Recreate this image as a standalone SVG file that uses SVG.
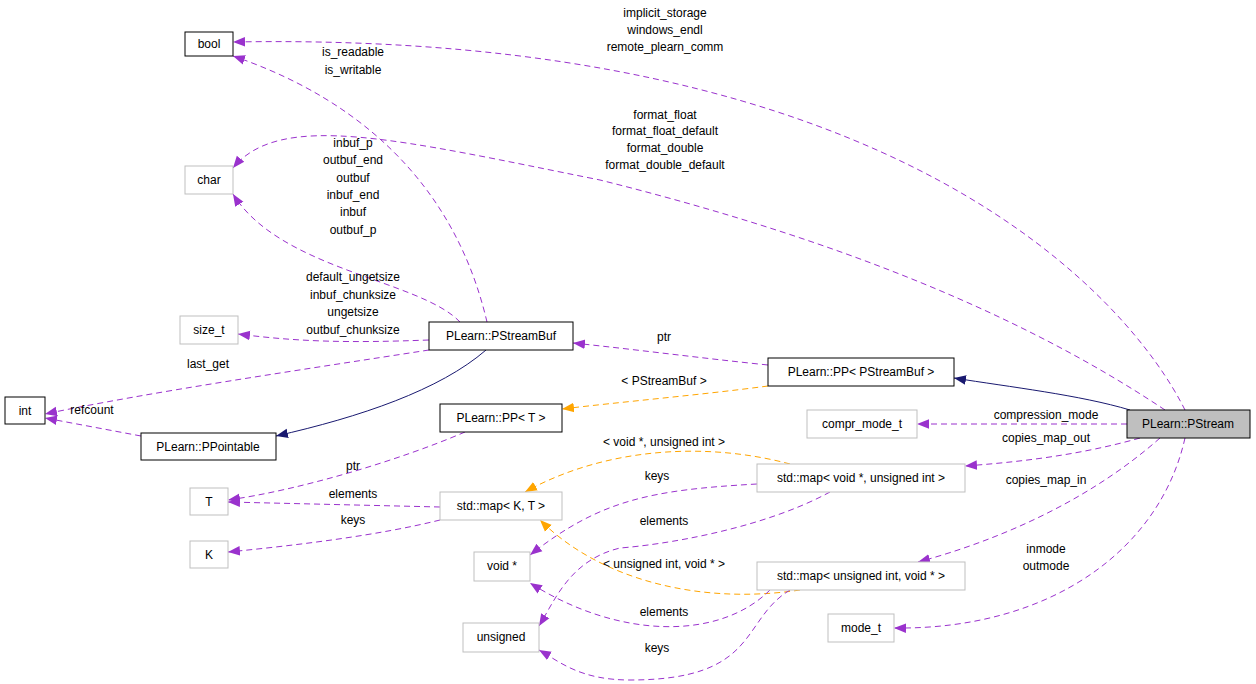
<svg xmlns="http://www.w3.org/2000/svg" width="1256" height="684" viewBox="0 0 1256 684">
<style>
.n rect{fill:#fff;stroke:#000;stroke-width:1}
.g rect{stroke:#bfbfbf}
text{font-family:"Liberation Sans",Arial,sans-serif;font-size:12px;text-anchor:middle;fill:#000}
.e path{fill:none;stroke-width:1}
.p{stroke:#9a32cd;stroke-dasharray:6,4}
.o{stroke:#ffa500;stroke-dasharray:6,4}
.b{stroke:#191970}
</style>
<defs>
<marker id="mp" viewBox="0 0 10 10" refX="10" refY="5" markerWidth="12" markerHeight="12" markerUnits="userSpaceOnUse" orient="auto"><path d="M0,1L10,5L0,9z" fill="#9a32cd"/></marker>
<marker id="mo" viewBox="0 0 10 10" refX="10" refY="5" markerWidth="12" markerHeight="12" markerUnits="userSpaceOnUse" orient="auto"><path d="M0,1L10,5L0,9z" fill="#ffa500"/></marker>
<marker id="mb" viewBox="0 0 10 10" refX="10" refY="5" markerWidth="12" markerHeight="12" markerUnits="userSpaceOnUse" orient="auto"><path d="M0,1L10,5L0,9z" fill="#191970"/></marker>
</defs>
<rect width="1256" height="684" fill="#fff"/>
<g id="edges" class="e">
<path class="p" marker-end="url(#mp)" d="M1185,410 C1130,300 900,30 233,42"/>
<path class="p" marker-end="url(#mp)" d="M1165,410 C1000,300 800,230 600,180 C400,140 280,110 233,168"/>
<path class="p" marker-end="url(#mp)" d="M487,322 C470,250 420,120 233,56"/>
<path class="p" marker-end="url(#mp)" d="M460,322 C420,280 280,270 233,194"/>
<path class="p" marker-end="url(#mp)" d="M429,340 C350,343 300,342 238,334"/>
<path class="p" marker-end="url(#mp)" d="M429,350 C300,370 150,392 45,414"/>
<path class="p" marker-end="url(#mp)" d="M141,436 L45,418"/>
<path class="b" marker-end="url(#mb)" d="M486,350 C440,390 360,417 276,436"/>
<path class="p" marker-end="url(#mp)" d="M768,365 C700,358 640,350 573,343"/>
<path class="o" marker-end="url(#mo)" d="M768,386 C700,395 620,402 562,409"/>
<path class="b" marker-end="url(#mb)" d="M1130,410 C1080,395 1010,387 954,378"/>
<path class="p" marker-end="url(#mp)" d="M1127,424 L917,424"/>
<path class="p" marker-end="url(#mp)" d="M1140,438 C1080,455 1020,462 965,466"/>
<path class="p" marker-end="url(#mp)" d="M1160,438 C1090,500 1000,540 918,562"/>
<path class="p" marker-end="url(#mp)" d="M1185,438 C1160,550 1050,630 894,628"/>
<path class="o" marker-end="url(#mo)" d="M790,464 C700,440 600,450 525,492"/>
<path class="o" marker-end="url(#mo)" d="M800,590 C700,605 600,580 540,520"/>
<path class="p" marker-end="url(#mp)" d="M757,484 C650,490 600,500 530,555"/>
<path class="p" marker-end="url(#mp)" d="M830,492 C760,530 660,545 620,548 C570,560 555,600 539,626"/>
<path class="p" marker-end="url(#mp)" d="M770,590 C720,640 620,640 530,583"/>
<path class="p" marker-end="url(#mp)" d="M790,590 C740,620 760,680 630,680 C580,680 560,662 539,650"/>
<path class="p" marker-end="url(#mp)" d="M465,432 C400,460 300,490 228,500"/>
<path class="p" marker-end="url(#mp)" d="M440,507 L228,502"/>
<path class="p" marker-end="url(#mp)" d="M440,520 C380,535 300,545 228,552"/>
<text x="665" y="17">implicit_storage</text><text x="665" y="34">windows_endl</text><text x="665" y="51">remote_plearn_comm</text>
<text x="665" y="119">format_float</text><text x="665" y="135">format_float_default</text><text x="665" y="152">format_double</text><text x="665" y="169">format_double_default</text>
<text x="353" y="56">is_readable</text><text x="353" y="74">is_writable</text>
<text x="353" y="147">inbuf_p</text><text x="353" y="164">outbuf_end</text><text x="353" y="182">outbuf</text><text x="353" y="199">inbuf_end</text><text x="353" y="216">inbuf</text><text x="353" y="234">outbuf_p</text>
<text x="353" y="281">default_ungetsize</text><text x="353" y="299">inbuf_chunksize</text><text x="353" y="316">ungetsize</text><text x="353" y="334">outbuf_chunksize</text>
<text x="208" y="368">last_get</text><text x="92" y="414">refcount</text>
<text x="664" y="341">ptr</text><text x="664" y="385">&lt; PStreamBuf &gt;</text>
<text x="1046" y="419">compression_mode</text><text x="1046" y="442">copies_map_out</text><text x="1046" y="484">copies_map_in</text>
<text x="1046" y="553">inmode</text><text x="1046" y="570">outmode</text>
<text x="664" y="446">&lt; void *, unsigned int &gt;</text><text x="657" y="480">keys</text><text x="664" y="525">elements</text>
<text x="664" y="568">&lt; unsigned int, void * &gt;</text><text x="664" y="616">elements</text><text x="657" y="652">keys</text>
<text x="353" y="470">ptr</text><text x="353" y="498">elements</text><text x="353" y="524">keys</text>
</g>
<g id="bool" class="n"><rect x="185" y="32" width="48" height="24"/><text x="209" y="48">bool</text></g>
<g id="char" class="n g"><rect x="185" y="166" width="48" height="28"/><text x="209" y="184">char</text></g>
<g id="size_t" class="n g"><rect x="180" y="316" width="58" height="28"/><text x="209" y="334">size_t</text></g>
<g id="int" class="n"><rect x="5" y="397" width="40" height="27"/><text x="25" y="415">int</text></g>
<g id="PStreamBuf" class="n"><rect x="429" y="322" width="144" height="28"/><text x="501" y="340">PLearn::PStreamBuf</text></g>
<g id="PPointable" class="n"><rect x="141" y="433" width="135" height="27"/><text x="208" y="451">PLearn::PPointable</text></g>
<g id="PPT" class="n"><rect x="440" y="404" width="122" height="28"/><text x="501" y="422">PLearn::PP&lt; T &gt;</text></g>
<g id="T" class="n g"><rect x="190" y="488" width="38" height="27"/><text x="209" y="506">T</text></g>
<g id="K" class="n g"><rect x="190" y="541" width="38" height="27"/><text x="209" y="559">K</text></g>
<g id="mapKT" class="n g"><rect x="440" y="492" width="122" height="28"/><text x="501" y="510">std::map&lt; K, T &gt;</text></g>
<g id="voidp" class="n g"><rect x="474" y="552" width="56" height="29"/><text x="502" y="570">void *</text></g>
<g id="unsigned" class="n g"><rect x="463" y="623" width="76" height="29"/><text x="501" y="641">unsigned</text></g>
<g id="PPPStreamBuf" class="n"><rect x="768" y="358" width="186" height="28"/><text x="861" y="376">PLearn::PP&lt; PStreamBuf &gt;</text></g>
<g id="compr" class="n g"><rect x="807" y="410" width="110" height="28"/><text x="862" y="428">compr_mode_t</text></g>
<g id="mapVU" class="n g"><rect x="757" y="464" width="208" height="28"/><text x="861" y="482">std::map&lt; void *, unsigned int &gt;</text></g>
<g id="mapUV" class="n g"><rect x="757" y="562" width="208" height="28"/><text x="861" y="580">std::map&lt; unsigned int, void * &gt;</text></g>
<g id="mode_t" class="n g"><rect x="828" y="614" width="66" height="28"/><text x="861" y="632">mode_t</text></g>
<g id="PStream"><rect x="1127" y="410" width="123" height="28" fill="#bfbfbf" stroke="#000"/><text x="1188" y="428">PLearn::PStream</text></g>
</svg>
